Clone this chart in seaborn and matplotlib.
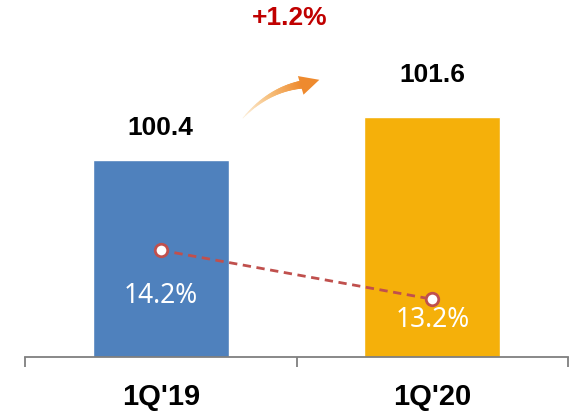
import numpy as np
import pandas as pd
import matplotlib
matplotlib.use("Agg")
import matplotlib.pyplot as plt
import seaborn as sns
from matplotlib.patches import FancyArrowPatch
from matplotlib.collections import LineCollection
from matplotlib.colors import LinearSegmentedColormap

# chart data
quarters = ["1Q'19", "1Q'20"]
sales = [100.4, 101.6]
margin = [14.2, 13.2]
margin_labels = ["14.2%", "13.2%"]
growth_label = "+1.2%"

bar_colors = ["#4F81BD", "#F5B00A"]
line_color = "#C0504D"

sns.set_style("white")
plt.rcParams['font.family'] = ['Noto Sans', 'DejaVu Sans']
bold_font = ['Liberation Sans', 'DejaVu Sans']

df = pd.DataFrame({'quarter': quarters, 'sales': sales, 'margin': margin})

fig = plt.figure(figsize=(5.72, 4.18), dpi=100)
ax = fig.add_axes([25/572, 1-357/418, 543/572, 357/418])

sns.barplot(data=df, x='quarter', y='sales', hue='quarter', palette=bar_colors,
            width=0.5, legend=False, ax=ax, saturation=1)
ax.set_xlim(-0.5, 1.5)
ax.set_ylim(94.9, 104.87)
ax.set_xlabel('')
ax.set_ylabel('')
ax.set_yticks([])
ax.set_xticks([0, 1])
ax.set_xticklabels([])
ax.set_xticks([-0.5, 0.5, 1.5], minor=True)
ax.tick_params(axis='x', which='major', length=0, bottom=False)
ax.tick_params(axis='x', which='minor', length=7.5, width=1.3, color='#7F7F7F',
               direction='out', bottom=True)
for s in ['top', 'left', 'right']:
    ax.spines[s].set_visible(False)
ax.spines['bottom'].set_color('#7F7F7F')
ax.spines['bottom'].set_linewidth(1.3)

# value labels above bars
bar_offsets = [32, 42]
for i, v in enumerate(df['sales']):
    ax.annotate(f"{v:.1f}", (i, v), xytext=(0, bar_offsets[i]), textcoords='offset pixels',
                ha='center', va='center', fontsize=19, fontweight='bold', color='black',
                family=bold_font)

# category labels
for i, q in enumerate(df['quarter']):
    ax.annotate(q, (i, 0), xycoords=('data', 'axes fraction'), xytext=(0, -40),
                textcoords='offset pixels', ha='center', va='center',
                fontsize=21, fontweight='bold', color='black', family=bold_font)

# margin line on secondary axis
ax2 = ax.twinx()
ax2.set_ylim(12.02, 19.31)
ax2.plot(range(len(df)), df['margin'], ls=(0, (3, 2)), lw=2, color=line_color,
         marker='o', markersize=9, markerfacecolor='white', markeredgecolor=line_color,
         markeredgewidth=2, zorder=5)
ax2.set_yticks([])
for s in ['top', 'left', 'right', 'bottom']:
    ax2.spines[s].set_visible(False)

pct_offsets = [-46, -21]
for i, (v, lab) in enumerate(zip(df['margin'], margin_labels)):
    ax2.annotate(lab, (i, v), xytext=(0, pct_offsets[i]), textcoords='offset pixels',
                 ha='center', va='center', fontsize=19, color='white')

# growth annotation
fig.text(290/572, 1-18/418, growth_label, ha='center', va='center',
         fontsize=19, fontweight='bold', color='#C00000', family=bold_font)

# curved arrow with a fading, tapering tail (pixel coords -> figure fraction)
p0, p1, p2 = np.array([243, 118]), np.array([270, 88]), np.array([306, 84])
t = np.linspace(0, 1, 40)[:, None]
pts = (1-t)**2*p0 + 2*(1-t)*t*p1 + t**2*p2
pts = np.column_stack([pts[:, 0]/572, 1-pts[:, 1]/418])
segs = np.stack([pts[:-1], pts[1:]], axis=1)
cmap = LinearSegmentedColormap.from_list('arr', ['#FDF0DC', '#F6BE7A', '#EE8A2E'])
lc = LineCollection(segs, colors=cmap(np.linspace(0, 1, len(segs))),
                    linewidths=np.linspace(0.5, 6, len(segs)), capstyle='round',
                    transform=fig.transFigure)
fig.add_artist(lc)
head = FancyArrowPatch((302/572, 1-85/418), (322/572, 1-79/418), transform=fig.transFigure,
                       arrowstyle='simple,head_width=14,head_length=14,tail_width=0.1',
                       color='#EE8A2E', lw=0)
fig.patches.append(head)

plt.savefig('out.png', dpi=100)
